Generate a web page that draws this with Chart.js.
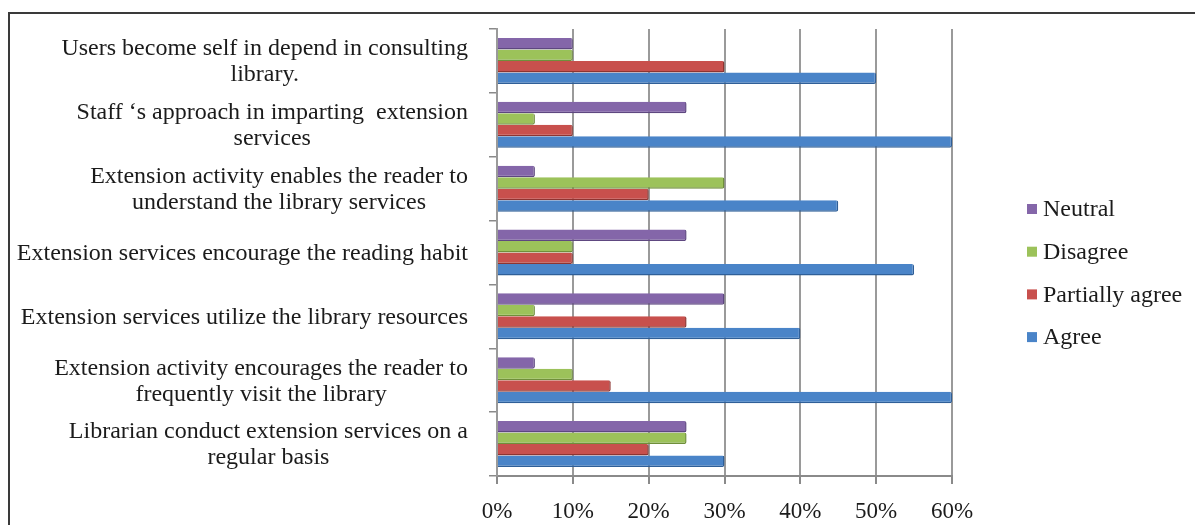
<!DOCTYPE html>
<html>
<head>
<meta charset="utf-8">
<title>Extension services</title>
<script src="https://cdn.jsdelivr.net/npm/chart.js@4.4.0/dist/chart.umd.min.js"></script>
<style>
    html, body { margin: 0; padding: 0; background: #fff; }
    #wrap { width: 1195px; height: 525px; position: relative; }
</style>
</head>
<body>
<div id="wrap"><canvas id="chart"></canvas></div>
<script>
// ── DATA ──
const categories = [
    ['Users become self in depend in consulting', 'library.'],
    ['Staff \u2018s approach in imparting  extension', 'services'],
    ['Extension activity enables the reader to', 'understand the library services'],
    'Extension services encourage the reading habit',
    'Extension services utilize the library resources',
    ['Extension activity encourages the reader to', 'frequently visit the library'],
    ['Librarian conduct extension services on a', 'regular basis']
];
const seriesNames = ['Neutral', 'Disagree', 'Partially agree', 'Agree'];
const neutral   = [10, 25,  5, 25, 30,  5, 25];
const disagree  = [10,  5, 30, 10,  5, 10, 25];
const partially = [30, 10, 20, 10, 25, 15, 20];
const agree     = [50, 60, 45, 55, 40, 60, 30];
const xTicks    = [0, 10, 20, 30, 40, 50, 60];

const colors  = ['#8466A9', '#9CC25A', '#C8504D', '#4A84C8'];
const borders = ['#5E4780', '#6F8F3A', '#8E3431', '#2F5F98'];
const FONT = '"Liberation Serif", "DejaVu Serif", serif';
const TEXT = '#1b1b1b';

// frame around the figure
const framePlugin = {
    id: 'frame',
    beforeDraw(chart) {
        const c = chart.ctx;
        c.save();
        c.strokeStyle = '#3a3a3a';
        c.lineWidth = 2;
        c.beginPath();
        c.moveTo(9, 530); c.lineTo(9, 13); c.lineTo(1200, 13);
        c.stroke();
        c.restore();
    }
};

// wrapped category labels: block right aligned, lines centred inside it
const catLabelPlugin = {
    id: 'catLabels',
    afterDraw(chart) {
        const c = chart.ctx, y = chart.scales.y;
        c.save();
        c.font = '24px ' + FONT;
        c.fillStyle = TEXT;
        c.textAlign = 'center';
        c.textBaseline = 'middle';
        const right = 468, lh = 26;
        categories.forEach((lab, i) => {
            const lines = Array.isArray(lab) ? lab : [lab];
            const w = Math.max(...lines.map(l => c.measureText(l).width));
            const cy = y.getPixelForValue(i) + 1;
            lines.forEach((l, k) => c.fillText(l, right - w / 2, cy + (k - (lines.length - 1) / 2) * lh));
        });
        c.restore();
    }
};

// legend on the right
const legendPlugin = {
    id: 'sideLegend',
    afterDraw(chart) {
        const c = chart.ctx;
        c.save();
        c.font = '24px ' + FONT;
        c.textBaseline = 'middle';
        chart.data.datasets.forEach((ds, i) => {
            const cy = 209 + i * 42.7;
            c.fillStyle = ds.backgroundColor;
            c.fillRect(1027, cy - 5, 10, 10);
            c.fillStyle = TEXT;
            c.fillText(ds.label, 1043, cy + 1);
        });
        c.restore();
    }
};

const seriesData = [neutral, disagree, partially, agree];

new Chart(document.getElementById('chart'), {
    type: 'bar',
    data: {
        labels: categories,
        datasets: seriesNames.map((n, i) => ({
            label: n,
            data: seriesData[i],
            backgroundColor: colors[i],
            borderColor: borders[i],
            borderWidth: { top: 0, left: 0, right: 1.5, bottom: 1.5 },
            borderSkipped: 'left',
            borderRadius: { topRight: 2, bottomRight: 2 },
            categoryPercentage: 0.72,
            barPercentage: 1.0
        }))
    },
    options: {
        indexAxis: 'y',
        responsive: true, maintainAspectRatio: false, animation: false,
        layout: { padding: { top: 29, right: 243, left: 0, bottom: 0 } },
        plugins: { legend: { display: false }, tooltip: { enabled: false } },
        scales: {
            x: {
                min: 0, max: 60,
                afterBuildTicks: s => { s.ticks = xTicks.map(v => ({ value: v })); },
                afterFit: s => { s.height = 49; },
                ticks: { callback: v => v + '%', color: TEXT, font: { family: FONT, size: 23 }, padding: 14, maxRotation: 0 },
                grid: { color: '#9a9a9a', lineWidth: 2, tickLength: 8, tickColor: '#8a8a8a' },
                border: { color: '#8a8a8a', width: 2 }
            },
            y: {
                afterFit: s => { s.width = 497; },
                ticks: { display: false },
                grid: { drawOnChartArea: false, drawTicks: true, tickLength: 8, color: '#8a8a8a', lineWidth: 1.5 },
                border: { color: '#9a9a9a', width: 2 }
            }
        }
    },
    plugins: [framePlugin, catLabelPlugin, legendPlugin]
});
</script>
</body>
</html>
